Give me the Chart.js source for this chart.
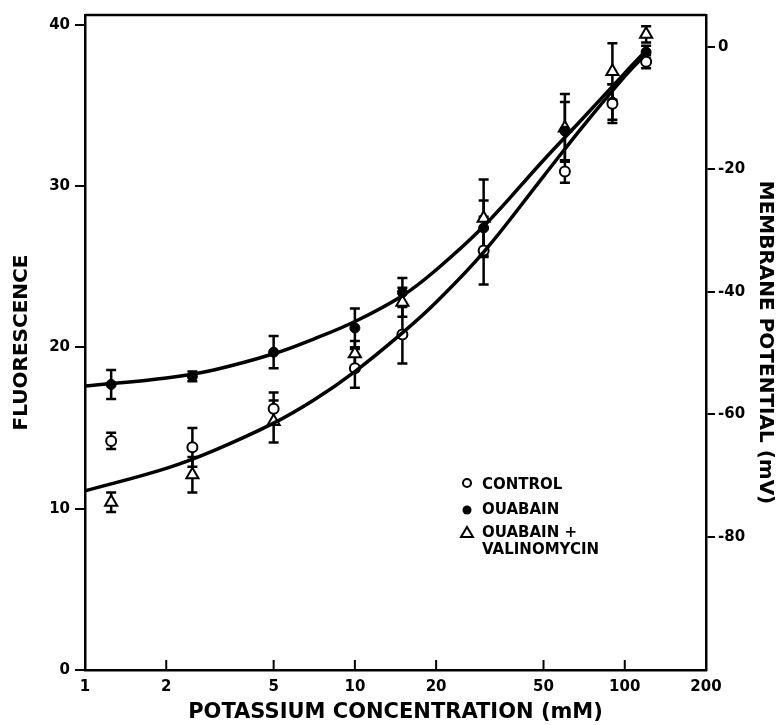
<!DOCTYPE html>
<html>
<head>
<meta charset="utf-8">
<script src="https://cdn.jsdelivr.net/npm/chart.js@4.4.0/dist/chart.umd.min.js"></script>
<style>
  html, body { margin: 0; padding: 0; background: #fff; }
</style>
</head>
<body>
<canvas id="chart" width="778" height="725"></canvas>
<script>
// measured points (x = potassium, mM)
const concentrations = [1.25, 2.5, 5, 10, 15, 30, 60, 90, 120];
const control = [14.2, 13.8, 16.2, 18.7, 20.8, 26.0, 30.9, 35.1, 37.7];
const controlErr = [0.5, 1.2, 1.0, 1.2, 1.8, 2.1, 0.7, 1.2, 0.4];
const ouabain = [17.7, 18.2, 19.7, 21.2, 23.4, 27.4, 33.4, 35.2, 38.3];
const ouabainErr = [0.9, 0.3, 1.0, 1.2, 0.9, 1.7, 1.8, 1.1, 0.4];
const ouaVal = [10.4, 12.1, 15.4, 19.6, 22.8, 28.0, 33.6, 37.1, 39.4];
const ouaValErr = [0.6, 1.1, 1.3, 0.8, 0.9, 2.4, 2.1, 1.75, 0.5];

// fitted curves
const curveX = [1, 2, 3, 5, 7, 10, 15, 20, 30, 50, 70, 100, 120];
const upperCurve = [17.6, 18.1, 18.6, 19.6, 20.5, 21.6, 23.2, 24.8, 27.5, 31.6, 34.2, 37.0, 38.4];
const lowerCurve = [11.1, 12.5, 13.6, 15.3, 16.7, 18.5, 20.9, 22.8, 25.9, 30.6, 33.7, 36.8, 38.2];

// axis ticks
const xTicks = [1, 2, 5, 10, 20, 50, 100, 200];
const yTicks = [0, 10, 20, 30, 40];
const mvTicks = [0, -20, -40, -60, -80];

const FONT = "'DejaVu Sans', sans-serif";

const pts = (xs, ys) => xs.map((x, i) => ({ x: x, y: ys[i] }));

// error bars under the markers
const errorBars = {
  id: 'errorBars',
  beforeDatasetsDraw(chart) {
    const ctx = chart.ctx;
    const xs = chart.scales.x, ys = chart.scales.y;
    ctx.save();
    ctx.strokeStyle = '#000';
    ctx.lineWidth = 2.5;
    chart.data.datasets.forEach(ds => {
      if (!ds.err) return;
      ds.data.forEach((p, i) => {
        const px = xs.getPixelForValue(p.x);
        const top = ys.getPixelForValue(p.y + ds.err[i]);
        const bot = ys.getPixelForValue(p.y - ds.err[i]);
        ctx.beginPath();
        ctx.moveTo(px, top); ctx.lineTo(px, bot);
        ctx.moveTo(px - 5, top); ctx.lineTo(px + 5, top);
        ctx.moveTo(px - 5, bot); ctx.lineTo(px + 5, bot);
        ctx.stroke();
      });
    });
    ctx.restore();
  }
};

// top frame line, inward x ticks and the legend
const frame = {
  id: 'frame',
  afterDraw(chart) {
    const ctx = chart.ctx;
    const a = chart.chartArea;
    const xs = chart.scales.x;
    ctx.save();
    ctx.strokeStyle = '#000';
    ctx.lineWidth = 2.5;
    ctx.beginPath();
    ctx.moveTo(a.left, a.top); ctx.lineTo(a.right, a.top);
    ctx.stroke();
    ctx.lineWidth = 2;
    xTicks.forEach(v => {
      const px = xs.getPixelForValue(v);
      ctx.beginPath();
      ctx.moveTo(px, a.bottom); ctx.lineTo(px, a.bottom - 10);
      ctx.stroke();
    });

    // legend
    const lx = 467, tx = 482;
    ctx.font = 'bold 15px ' + FONT;
    ctx.fillStyle = '#000';
    ctx.textBaseline = 'middle';
    ctx.lineWidth = 2;
    ctx.beginPath(); ctx.arc(lx, 483, 4, 0, Math.PI * 2); ctx.stroke();
    ctx.fillText('CONTROL', tx, 485);
    ctx.beginPath(); ctx.arc(lx, 510, 4.5, 0, Math.PI * 2); ctx.fill();
    ctx.fillText('OUABAIN', tx, 510);
    ctx.beginPath();
    ctx.moveTo(lx, 527); ctx.lineTo(lx + 6, 537); ctx.lineTo(lx - 6, 537); ctx.closePath();
    ctx.stroke();
    ctx.fillText('OUABAIN +', tx, 533);
    ctx.fillText('VALINOMYCIN', tx, 550);
    ctx.restore();
  }
};

new Chart(document.getElementById('chart'), {
  data: {
    datasets: [
      {
        type: 'line', label: 'fit ouabain',
        data: pts(curveX, upperCurve),
        borderColor: '#000', borderWidth: 3.5,
        pointRadius: 0, tension: 0.4, fill: false
      },
      {
        type: 'line', label: 'fit control',
        data: pts(curveX, lowerCurve),
        borderColor: '#000', borderWidth: 3.5,
        pointRadius: 0, tension: 0.4, fill: false
      },
      {
        type: 'scatter', label: 'CONTROL',
        data: pts(concentrations, control), err: controlErr,
        pointStyle: 'circle', pointRadius: 5,
        backgroundColor: '#fff', borderColor: '#000', borderWidth: 2
      },
      {
        type: 'scatter', label: 'OUABAIN',
        data: pts(concentrations, ouabain), err: ouabainErr,
        pointStyle: 'circle', pointRadius: 5,
        backgroundColor: '#000', borderColor: '#000', borderWidth: 1
      },
      {
        type: 'scatter', label: 'OUABAIN + VALINOMYCIN',
        data: pts(concentrations, ouaVal), err: ouaValErr,
        pointStyle: 'triangle', pointRadius: 7,
        backgroundColor: '#fff', borderColor: '#000', borderWidth: 2
      }
    ]
  },
  options: {
    responsive: false,
    animation: false,
    layout: { padding: { top: 15 } },
    plugins: {
      legend: { display: false },
      tooltip: { enabled: false }
    },
    scales: {
      x: {
        type: 'logarithmic', position: 'bottom',
        min: 1, max: 200,
        afterBuildTicks: s => { s.ticks = xTicks.map(v => ({ value: v })); },
        afterFit: s => { s.height = 55; },
        grid: { drawOnChartArea: false, drawTicks: false },
        border: { color: '#000', width: 2.5 },
        ticks: {
          color: '#000', padding: 8, maxRotation: 0, autoSkip: false,
          font: { family: FONT, size: 15, weight: 'bold' },
          callback: v => String(v)
        },
        title: {
          display: true, text: 'POTASSIUM CONCENTRATION (mM)', color: '#000',
          font: { family: FONT, size: 21, weight: 'bold' },
          padding: { top: 0, bottom: 0 }
        }
      },
      y: {
        position: 'left', min: 0, max: 40.6,
        afterBuildTicks: s => { s.ticks = yTicks.map(v => ({ value: v })); },
        afterFit: s => { s.width = 85; },
        grid: { drawOnChartArea: false, tickLength: 10, color: '#000', lineWidth: 2 },
        border: { color: '#000', width: 2.5 },
        ticks: {
          color: '#000', padding: 5,
          font: { family: FONT, size: 15, weight: 'bold' }
        },
        title: {
          display: true, text: 'FLUORESCENCE', color: '#000',
          font: { family: FONT, size: 20, weight: 'bold' },
          padding: { top: 10, bottom: 0 }
        }
      },
      y2: {
        position: 'right', min: -101.7, max: 5.2,
        afterBuildTicks: s => { s.ticks = mvTicks.map(v => ({ value: v })); },
        afterFit: s => { s.width = 72; },
        grid: { drawOnChartArea: false, tickLength: 9, color: '#000', lineWidth: 2 },
        border: { color: '#000', width: 2.5 },
        ticks: {
          color: '#000', padding: 3,
          font: { family: FONT, size: 15, weight: 'bold' }
        },
        title: {
          display: true, text: 'MEMBRANE POTENTIAL (mV)', color: '#000',
          font: { family: FONT, size: 20, weight: 'bold' },
          padding: { top: 1, bottom: 0 }
        }
      }
    }
  },
  plugins: [errorBars, frame]
});
</script>
</body>
</html>
